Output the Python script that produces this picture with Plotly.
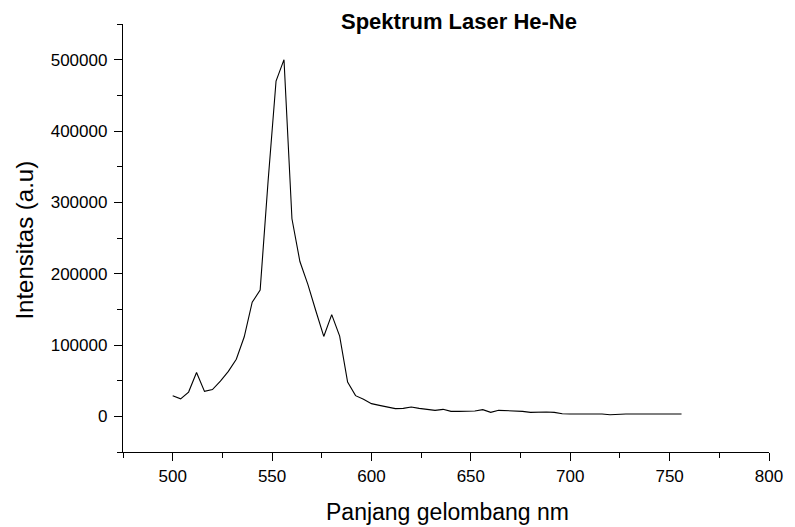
import plotly.graph_objects as go

wavelength = [500, 504, 508, 512, 516, 520, 524, 528, 532, 536, 540, 544, 548,
              552, 556, 560, 564, 568, 572, 576, 580, 584, 588, 592, 596, 600,
              604, 608, 612, 616, 620, 624, 628, 632, 636, 640, 644, 648, 652,
              656, 660, 664, 668, 672, 676, 680, 684, 688, 692, 696, 700, 704,
              708, 712, 716, 720, 724, 728, 732, 736, 740, 744, 748, 752, 756]
intensity = [29000, 24500, 34000, 61500, 35000, 37500, 49500, 63000, 80000,
             111500, 160000, 177000, 330000, 470000, 500000, 277000, 217000,
             185000, 148000, 112000, 142500, 112500, 48000, 29000, 24000, 17800,
             15400, 13100, 10800, 11200, 13100, 11200, 9800, 8400, 9800, 7000,
             7000, 7500, 7500, 9400, 5600, 8400, 8000, 7500, 7000, 5600, 6100,
             6100, 5600, 3700, 3300, 3300, 3700, 3700, 3300, 2300, 3300, 3300,
             3300, 3300, 3300, 3700, 3300, 3300, 3300]

x_ticks = [500, 550, 600, 650, 700, 750, 800]
y_ticks = [0, 100000, 200000, 300000, 400000, 500000]

title_text = "Spektrum Laser He-Ne"
x_title = "Panjang gelombang nm"
y_title = "Intensitas (a.u)"

FONT = "Liberation Sans, Arial, sans-serif"

fig = go.Figure()
fig.add_trace(go.Scatter(x=wavelength, y=intensity, mode="lines",
                         line=dict(color="black", width=1.1),
                         showlegend=False, hoverinfo="x+y"))

axis_common = dict(
    showline=True, linecolor="black", linewidth=1.3,
    showgrid=False, zeroline=False, ticks="outside", ticklen=8,
    tickwidth=1.2, tickcolor="black",
    tickfont=dict(family=FONT, size=17, color="black"),
    mirror=False,
)

fig.update_layout(
    width=795, height=527,
    margin=dict(l=123, r=17, t=24, b=75),
    paper_bgcolor="white", plot_bgcolor="white",
    xaxis=dict(range=[475, 800], tickvals=x_ticks,
               ticktext=[str(v) for v in x_ticks],
               minor=dict(dtick=25, tick0=475, ticks="outside", ticklen=5,
                          tickwidth=1.1, tickcolor="black", showgrid=False),
               ticklabelstandoff=0, **axis_common),
    yaxis=dict(range=[-50000, 550000], tickvals=y_ticks,
               ticktext=[str(v) for v in y_ticks],
               minor=dict(dtick=50000, tick0=-50000, ticks="outside", ticklen=5,
                          tickwidth=1.1, tickcolor="black", showgrid=False),
               ticklabelstandoff=3, **axis_common),
    annotations=[
        dict(text="<b>" + title_text + "</b>", xref="paper", yref="paper",
             x=0.52, y=1.007, xanchor="center", yanchor="middle",
             showarrow=False, font=dict(family=FONT, size=22, color="black")),
        dict(text=x_title, xref="paper", yref="paper",
             x=0.503, y=-0.140, xanchor="center", yanchor="middle",
             showarrow=False, font=dict(family=FONT, size=23, color="black")),
        dict(text=y_title, xref="paper", yref="paper",
             x=-0.1526, y=0.495, xanchor="center", yanchor="middle",
             textangle=-90, showarrow=False,
             font=dict(family=FONT, size=24, color="black")),
    ],
)

fig.write_html("out.html")
